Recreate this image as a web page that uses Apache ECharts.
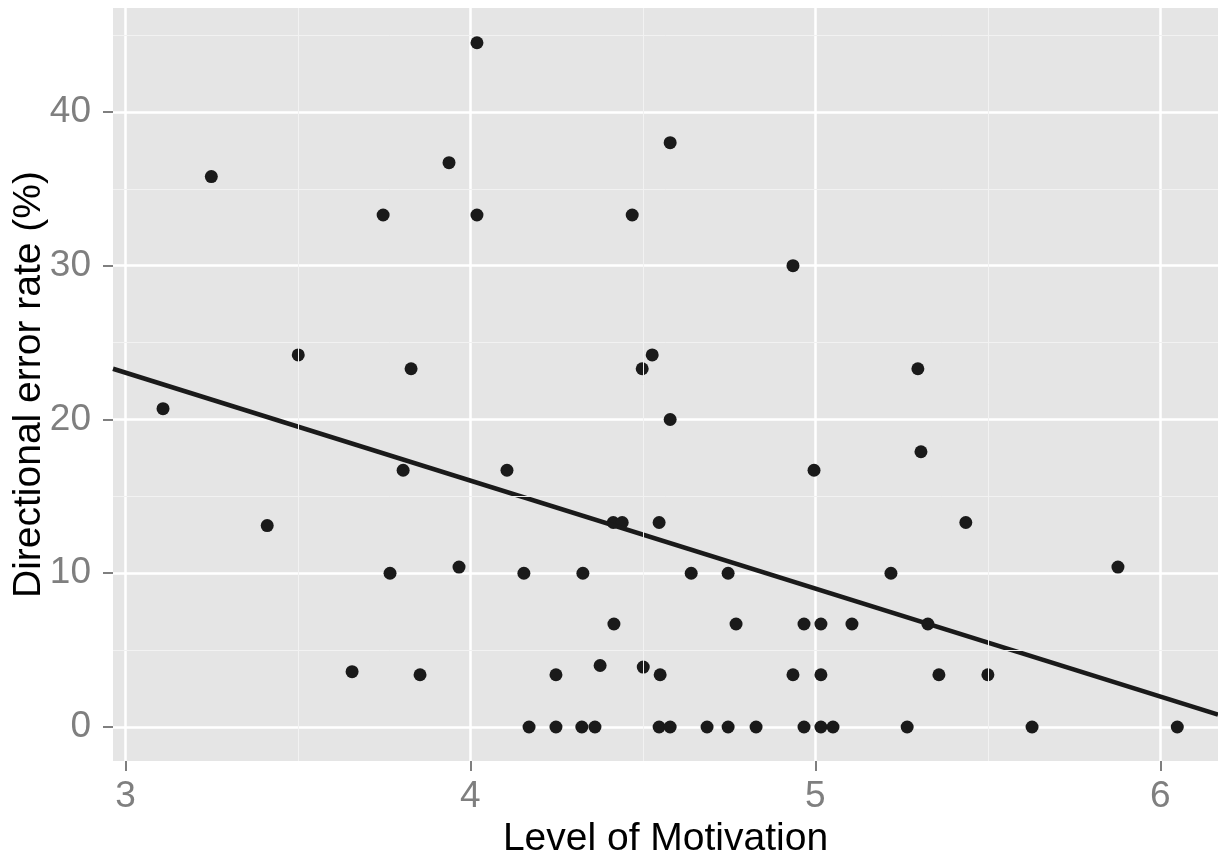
<!DOCTYPE html>
<html>
<head>
<meta charset="utf-8">
<script src="https://cdn.jsdelivr.net/npm/echarts@6/dist/echarts.min.js"></script>
<style>
html,body{margin:0;padding:0;background:#fff;}
#chart{width:1218px;height:856px;}
</style>
</head>
<body>
<div id="chart"></div>
<script>
// Data
var motivation = [3.109,3.249,3.411,3.501,3.657,3.747,3.767,3.805,3.828,3.854,3.938,3.967,4.019,4.019,4.106,4.155,4.170,4.248,4.248,4.326,4.323,4.361,4.376,4.416,4.414,4.440,4.469,4.501,4.498,4.527,4.547,4.550,4.547,4.579,4.579,4.579,4.640,4.686,4.747,4.747,4.770,4.828,4.935,4.935,4.967,4.967,4.996,5.016,5.016,5.016,5.051,5.106,5.219,5.266,5.297,5.306,5.326,5.358,5.436,5.500,5.628,5.877,6.049];
var errorRate = [20.7,35.8,13.1,24.2,3.6,33.3,10.0,16.7,23.3,3.4,36.7,10.4,44.5,33.3,16.7,10.0,0,3.4,0,10.0,0,0,4.0,6.7,13.3,13.3,33.3,3.9,23.3,24.2,13.3,3.4,0,0,20.0,38.0,10.0,0,10.0,0,6.7,0,30.0,3.4,6.7,0,16.7,6.7,3.4,0,0,6.7,10.0,0,23.3,17.9,6.7,3.4,13.3,3.4,0,10.4,0];
var fitX = [2.964, 6.167];
var fitY = [23.3, 0.8];
var xTicks = [3, 4, 5, 6];
var yTicks = [0, 10, 20, 30, 40];
var xMinor = [3.5, 4.5, 5.5];
var yMinor = [5, 15, 25, 35, 45];
var xRange = [2.964, 6.167];
var yRange = [-2.21, 46.76];

var points = motivation.map(function(x, i){ return [x, errorRate[i]]; });
var fitLine = fitX.map(function(x, i){ return [x, fitY[i]]; });

var FONT = 'Liberation Sans, Arial, sans-serif';
var chart = echarts.init(document.getElementById('chart'), null, {renderer:'canvas'});
chart.setOption({
  animation: false,
  backgroundColor: '#ffffff',
  grid: {left:113, top:8, right:0, bottom:95, show:true, backgroundColor:'#E5E5E5', borderWidth:0,
         containLabel:false, outerBoundsMode:'none'},
  xAxis: {
    type:'value', min:xRange[0], max:xRange[1],
    name:'Level of Motivation', nameLocation:'middle', nameGap:59, nameMoveOverlap:false,
    nameTextStyle:{color:'#000', fontSize:39, fontFamily:FONT},
    axisLine:{show:false, onZero:false},
    axisTick:{show:true, customValues:xTicks, length:10, lineStyle:{color:'#7F7F7F', width:2}},
    axisLabel:{customValues:xTicks, color:'#7F7F7F', fontSize:37, fontFamily:FONT, margin:17},
    splitLine:{show:true, lineStyle:{color:'#ffffff', width:2.5}}
  },
  yAxis: {
    type:'value', min:yRange[0], max:yRange[1],
    name:'Directional error rate (%)', nameLocation:'middle', nameGap:64, nameRotate:90, nameMoveOverlap:false,
    nameTextStyle:{color:'#000', fontSize:39, fontFamily:FONT},
    axisLine:{show:false, onZero:false},
    axisTick:{show:true, customValues:yTicks, length:10, lineStyle:{color:'#7F7F7F', width:2}},
    axisLabel:{customValues:yTicks, color:'#7F7F7F', fontSize:37, fontFamily:FONT, margin:22},
    splitLine:{show:true, lineStyle:{color:'#ffffff', width:2.5}}
  },
  series: [
    {
      type:'scatter', data:[], z:1, silent:true,
      markLine:{
        silent:true, symbol:['none','none'], label:{show:false}, animation:false,
        lineStyle:{color:'#F2F2F2', width:1, type:'solid'},
        emphasis:{disabled:true},
        data: xMinor.map(function(v){return {xAxis:v};}).concat(yMinor.map(function(v){return {yAxis:v};}))
      }
    },
    {
      type:'scatter', data:points, z:3, symbol:'circle', symbolSize:13,
      itemStyle:{color:'#1A1A1A', opacity:1}
    },
    {
      type:'line', data:fitLine, z:4, showSymbol:false, symbol:'none',
      lineStyle:{color:'#1A1A1A', width:4.5}
    }
  ]
});
</script>
</body>
</html>
